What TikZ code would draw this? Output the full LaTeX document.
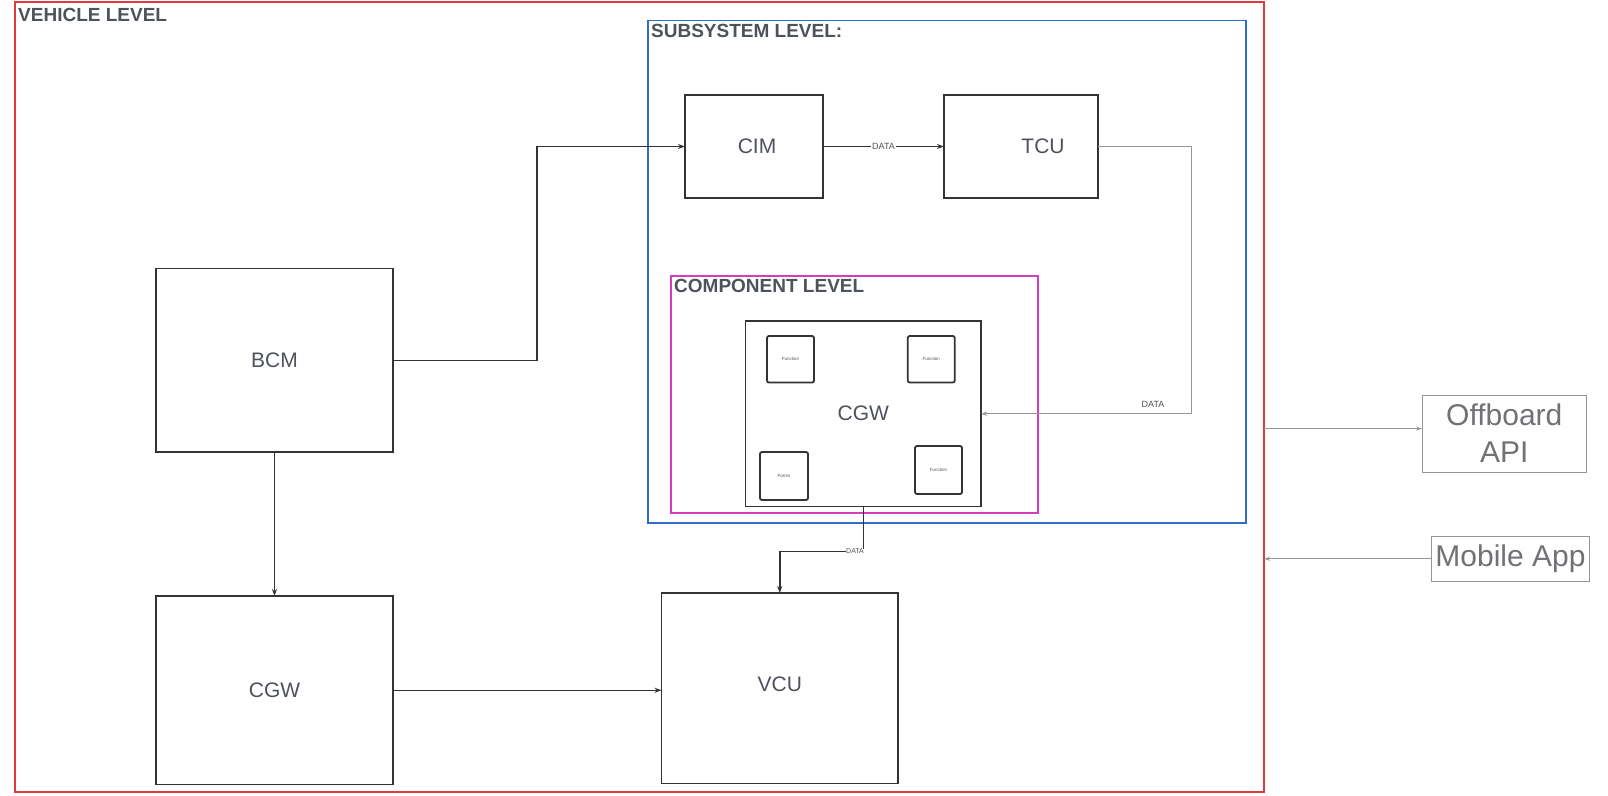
\documentclass[tikz,border=0pt]{standalone}
\usepackage{fontspec}
\setmainfont{Liberation Sans}
\usetikzlibrary{arrows.meta}
\definecolor{tcol}{RGB}{78,82,90}
\definecolor{lcol}{RGB}{51,51,55}
\definecolor{redc}{RGB}{226,58,58}
\definecolor{bluec}{RGB}{45,110,200}
\definecolor{pinkc}{RGB}{214,60,190}
\definecolor{gcol}{RGB}{150,150,150}
\definecolor{gtext}{RGB}{112,114,118}
\tikzset{
  box/.style={draw=lcol, line width=1.5pt, inner sep=0pt, outer sep=0pt, text=tcol, font=\fontsize{21}{24}\selectfont},
  small/.style={draw=lcol, line width=1.8pt, rounded corners=2pt, inner sep=0pt, outer sep=0pt, text=tcol, font=\fontsize{4.5}{5}\selectfont},
  frame/.style={line width=2pt, inner sep=0pt, outer sep=0pt},
  title/.style={anchor=north west, inner sep=0pt, text=tcol, font=\bfseries\fontsize{19}{21}\selectfont},
  ext/.style={draw=gcol, line width=1pt, inner sep=0pt, outer sep=0pt, text=gtext, align=center, font=\fontsize{30}{37}\selectfont},
  conn/.style={draw=lcol, line width=1.5pt, -{Stealth[length=7pt,width=5pt]}},
  thin/.style={draw=gcol, line width=1pt, -{Stealth[length=6pt,width=4pt]}},
  lbl/.style={inner sep=1pt, text=tcol, font=\fontsize{9}{10}\selectfont}
}
\begin{document}
\begin{tikzpicture}[x=1pt,y=-1pt]
\useasboundingbox[fill=white] (0,0) rectangle (1608,795);
% frames
\node[frame, draw=redc, minimum width=1249pt, minimum height=790pt] (veh) at (639.5,397) {};
\node[frame, draw=bluec, line width=1.6pt, minimum width=598pt, minimum height=502.5pt] (sub) at (947,271.75) {};
\node[frame, draw=pinkc, minimum width=367pt, minimum height=237pt] (comp) at (854.5,394.5) {};
\node[title] (vehT) at (18,8) {VEHICLE LEVEL};
\node[title] (subT) at (651,24) {SUBSYSTEM LEVEL:};
\node[title] (compT) at (674,279) {COMPONENT LEVEL};
% boxes
\node[box, minimum width=138pt, minimum height=103pt, text width=138pt, align=center] (cim) at (754,146.5) {\hspace*{6pt}CIM};
\node[box, minimum width=154pt, minimum height=103pt, text width=154pt, align=center] (tcu) at (1021,146.5) {\hspace*{44pt}TCU};
\node[box, minimum width=235.5pt, minimum height=185.5pt] (cgwi) at (863.25,413.75) {CGW};
\node[small, minimum width=47pt, minimum height=46.5pt] (f1) at (790.5,359.25) {Function};
\node[small, minimum width=47pt, minimum height=46.5pt] (f2) at (931.25,359.25) {Function};
\node[small, minimum width=48pt, minimum height=48pt] (f3) at (784,476) {Forms};
\node[small, minimum width=47pt, minimum height=48pt] (f4) at (938.5,470) {Function};
\node[box, minimum width=237pt, minimum height=183.3pt] (bcm) at (274.5,360.35) {BCM};
\node[box, minimum width=237pt, minimum height=188.5pt] (cgw) at (274.5,690.25) {CGW};
\node[box, minimum width=236.5pt, minimum height=190.5pt, text depth=8pt] (vcu) at (779.75,688.25) {VCU};
\node[ext, minimum width=164.5pt, minimum height=77pt] (off) at (1504.25,433.5) {Offboard\\API};
\node[ext, minimum width=158pt, minimum height=45.5pt] (mob) at (1510.5,558.75) {Mobile App};
% connectors
\draw[conn] (bcm.east) -- ++(144,0) |- (cim.west);
\draw[conn] (cim.east) -- node[lbl, fill=white] (d1) {DATA} (tcu.west);
\draw[thin] (tcu.east) -- ++(93.6,0) |- (cgwi.east);
\node[lbl] (d2) at (1153,404) {DATA};
\draw[conn] (bcm.south) -- (cgw.north);
\draw[conn] (cgw.east) -- (cgw.east -| vcu.west);
\draw[conn] (cgwi.south) -- ++(0,45.2) coordinate (bend) -| (vcu.north);
\node[lbl, fill=white, inner sep=0.5pt, font=\fontsize{7}{8}\selectfont] (d3) at (855,551.5) {DATA};
\coordinate (vehR) at (1264,428.7);
\draw[thin] (vehR) -- (vehR -| off.west);
\draw[thin] (mob.west) -- (mob.west -| veh.east);
\end{tikzpicture}
\end{document}
